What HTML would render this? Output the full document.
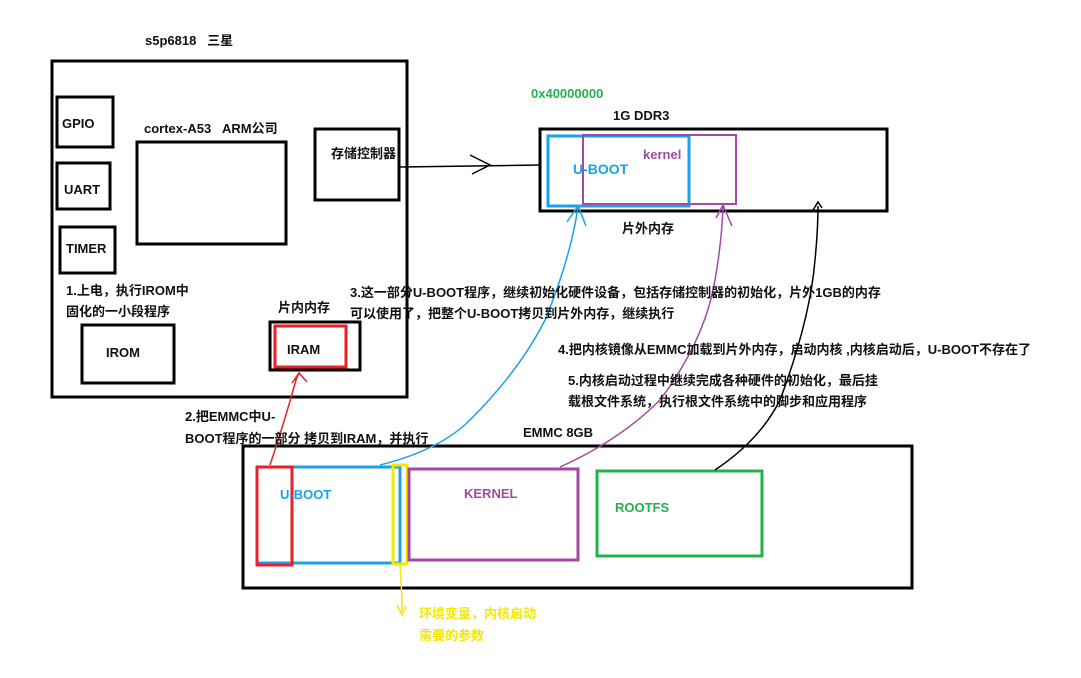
<!DOCTYPE html>
<html><head><meta charset="utf-8"><style>
body{margin:0;width:1081px;height:678px;background:#fff;position:relative;overflow:hidden;font-family:"Liberation Sans","Noto Sans CJK SC",sans-serif;font-weight:bold;font-size:13px;color:#111}
.t{position:absolute;white-space:nowrap;line-height:16px}
svg{position:absolute;left:0;top:0}
</style></head><body>
<svg width="1081" height="678" fill="none">
<g stroke="#000" stroke-width="3">
<rect x="52" y="61" width="355" height="336"/>
<rect x="57" y="97" width="56" height="50"/>
<rect x="57" y="163" width="53" height="46"/>
<rect x="60" y="227" width="55" height="46"/>
<rect x="137" y="142" width="149" height="102"/>
<rect x="315" y="129" width="84" height="71"/>
<rect x="82" y="325" width="92" height="58"/>
<rect x="270" y="322" width="90" height="48"/>
<rect x="540" y="129" width="347" height="82"/>
<rect x="243" y="446" width="669" height="142"/>
</g>
<rect x="275" y="326" width="71" height="41" stroke="#e8202a" stroke-width="3"/>
<rect x="548" y="136" width="141" height="70" stroke="#1aa3e8" stroke-width="3"/>
<rect x="583" y="135" width="153" height="69" stroke="#a349a4" stroke-width="2"/>
<rect x="257" y="467" width="143" height="96" stroke="#1aa3e8" stroke-width="3"/>
<rect x="257" y="467" width="35" height="98" stroke="#e8202a" stroke-width="3"/>
<rect x="393" y="465" width="14" height="99" stroke="#f5e800" stroke-width="3"/>
<rect x="409" y="469" width="169" height="91" stroke="#a349a4" stroke-width="3"/>
<rect x="597" y="471" width="165" height="85" stroke="#22b14c" stroke-width="3"/>
<g stroke-width="1.5">
<path d="M400 167 L540 165 M470 155 L490 165 L472 174" stroke="#000"/>
<path d="M270 465 Q285 420 296 380 Q299 372 300 374 M292 383 L299 373 L307 382" stroke="#e8202a"/>
<path d="M380 465 Q440 450 470 420 Q520 370 545 320 Q570 260 578 207 M567 222 L578 206 L586 226" stroke="#1aa3e8"/>
<path d="M560 467 Q620 440 660 400 Q705 340 715 280 Q722 240 723 206 M716 218 L723 205 L732 226" stroke="#a349a4"/>
<path d="M715 470 Q760 440 780 400 Q810 320 815 260 Q818 230 818 206 M813 210 L818 202 L822 208" stroke="#000"/>
<path d="M400 565 Q402 590 402 612 M397 605 L402 615 L406 606" stroke="#f5e800"/>
</g>
</svg>
<div class="t" style="left:145px;top:33px">s5p6818&nbsp;&nbsp;&nbsp;三星</div>
<div class="t" style="left:62px;top:116px">GPIO</div>
<div class="t" style="left:64px;top:182px">UART</div>
<div class="t" style="left:66px;top:241px">TIMER</div>
<div class="t" style="left:144px;top:121px">cortex-A53&nbsp;&nbsp;&nbsp;ARM公司</div>
<div class="t" style="left:331px;top:146px">存储控制器</div>
<div class="t" style="left:66px;top:283px">1.上电，执行IROM中</div>
<div class="t" style="left:66px;top:304px">固化的一小段程序</div>
<div class="t" style="left:106px;top:345px">IROM</div>
<div class="t" style="left:278px;top:300px">片内内存</div>
<div class="t" style="left:287px;top:342px">IRAM</div>
<div class="t" style="left:531px;top:86px;color:#22b14c">0x40000000</div>
<div class="t" style="left:613px;top:108px">1G DDR3</div>
<div class="t" style="left:573px;top:161px;color:#1aa3e8;font-size:14px">U-BOOT</div>
<div class="t" style="left:643px;top:147px;color:#a349a4">kernel</div>
<div class="t" style="left:622px;top:221px">片外内存</div>
<div class="t" style="left:350px;top:285px">3.这一部分U-BOOT程序，继续初始化硬件设备，包括存储控制器的初始化，片外1GB的内存</div>
<div class="t" style="left:350px;top:306px">可以使用了，把整个U-BOOT拷贝到片外内存，继续执行</div>
<div class="t" style="left:558px;top:342px">4.把内核镜像从EMMC加载到片外内存，启动内核 ,内核启动后，U-BOOT不存在了</div>
<div class="t" style="left:568px;top:373px">5.内核启动过程中继续完成各种硬件的初始化，最后挂</div>
<div class="t" style="left:568px;top:394px">载根文件系统，执行根文件系统中的脚步和应用程序</div>
<div class="t" style="left:185px;top:409px">2.把EMMC中U-</div>
<div class="t" style="left:185px;top:431px">BOOT程序的一部分 拷贝到IRAM，并执行</div>
<div class="t" style="left:523px;top:425px">EMMC 8GB</div>
<div class="t" style="left:280px;top:487px;color:#1aa3e8">U-BOOT</div>
<div class="t" style="left:464px;top:486px;color:#a349a4">KERNEL</div>
<div class="t" style="left:615px;top:500px;color:#22b14c">ROOTFS</div>
<div class="t" style="left:419px;top:606px;color:#f5e800">环境变量，内核启动</div>
<div class="t" style="left:419px;top:628px;color:#f5e800">需要的参数</div>
</body></html>
